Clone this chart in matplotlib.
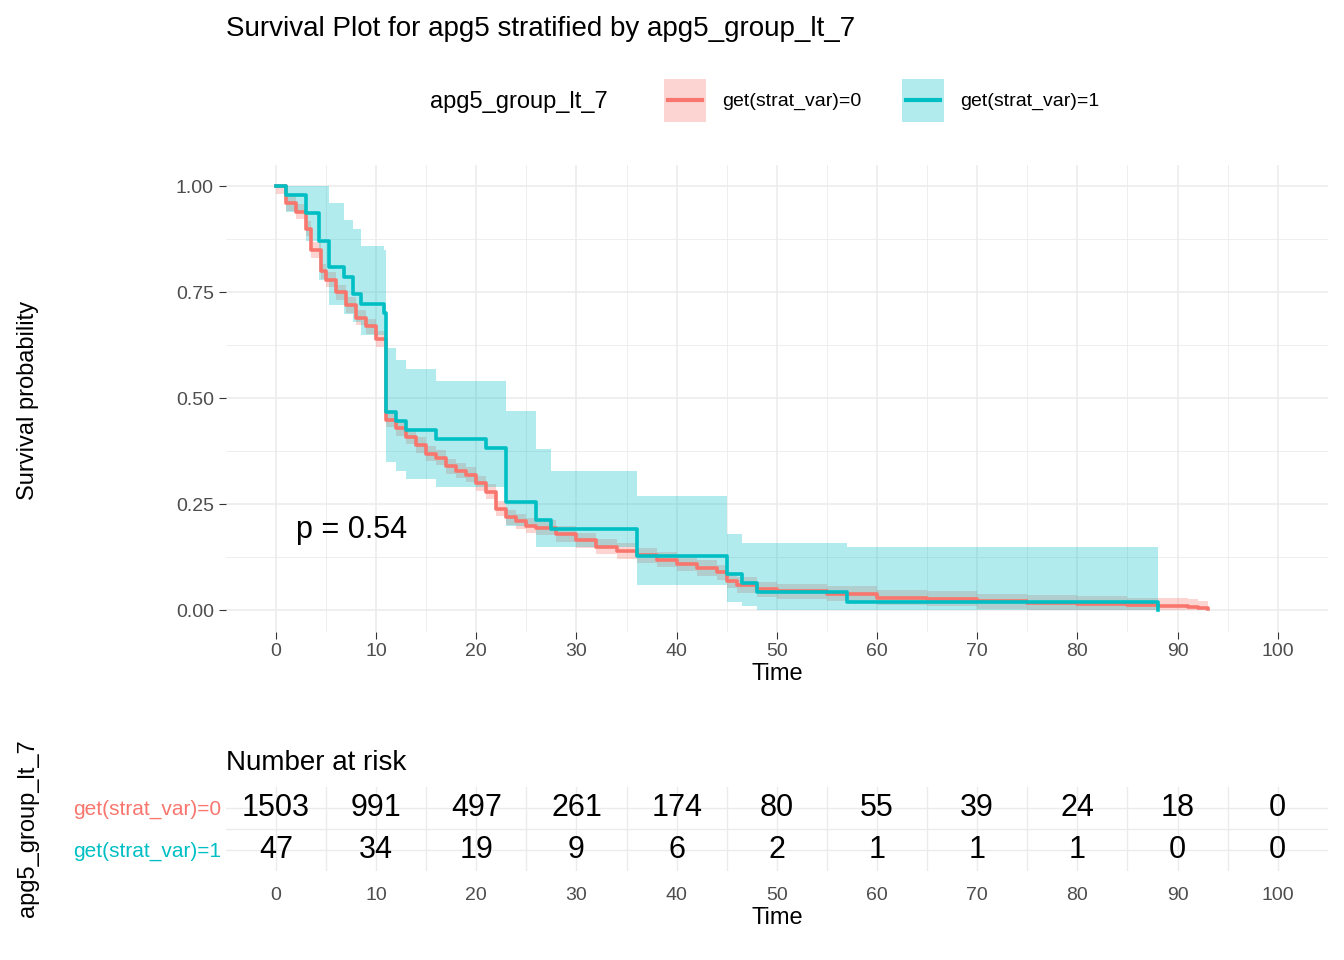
import matplotlib
matplotlib.use("Agg")
import matplotlib.pyplot as plt
import numpy as np
from matplotlib.patches import Rectangle
from matplotlib.lines import Line2D

plt.rcParams['font.family'] = ['Liberation Sans', 'DejaVu Sans']

RED = "#F8766D"
TEAL = "#00BFC4"
GRID = "#EBEBEB"

# group 1 (teal) Kaplan-Meier steps
t1 = [0, 1, 3, 4.3, 5.3, 6.8, 7.7, 8.5, 10.8, 11, 12, 13, 16, 21, 23, 26, 27.5, 36, 45, 46.5, 48, 57, 88]
s1 = [1.0, 0.979, 0.936, 0.872, 0.809, 0.787, 0.745, 0.723, 0.702, 0.468, 0.447, 0.426, 0.404, 0.383, 0.255, 0.213, 0.191, 0.128, 0.085, 0.064, 0.043, 0.021, 0.0]
u1 = [1.0, 1.0, 1.0, 1.0, 0.96, 0.92, 0.90, 0.86, 0.85, 0.62, 0.59, 0.57, 0.54, 0.54, 0.47, 0.38, 0.33, 0.27, 0.18, 0.16, 0.16, 0.15, 0.15]
l1 = [1.0, 0.94, 0.87, 0.78, 0.72, 0.70, 0.68, 0.65, 0.63, 0.35, 0.33, 0.31, 0.29, 0.29, 0.20, 0.15, 0.15, 0.06, 0.02, 0.01, 0.0, 0.0, 0.0]

# group 0 (red)
t0 = [0, 1, 2, 3, 3.5, 4.5, 5, 6, 7, 8, 9, 10, 11, 12, 13, 14, 15, 16, 17, 18, 19, 20, 21, 22, 23, 24, 25,
      26, 28, 30, 32, 34, 36, 38, 40, 42, 44, 45, 46, 48, 50, 55, 60, 65, 70, 75, 80, 85, 88, 91, 92, 93]
s0 = [1.0, 0.96, 0.94, 0.90, 0.85, 0.80, 0.78, 0.75, 0.72, 0.69, 0.67, 0.64, 0.45, 0.43, 0.41, 0.39, 0.37,
      0.36, 0.34, 0.33, 0.32, 0.30, 0.28, 0.24, 0.22, 0.21, 0.20, 0.195, 0.18, 0.165, 0.15, 0.14, 0.13, 0.12,
      0.11, 0.10, 0.09, 0.07, 0.06, 0.05, 0.045, 0.04, 0.03, 0.028, 0.022, 0.018, 0.015, 0.012, 0.011, 0.008,
      0.005, 0.003]

risk_times = [0, 10, 20, 30, 40, 50, 60, 70, 80, 90, 100]
risk0 = [1503, 991, 497, 261, 174, 80, 55, 39, 24, 18, 0]
risk1 = [47, 34, 19, 9, 6, 2, 1, 1, 1, 0, 0]

fig = plt.figure(figsize=(13.44, 9.6), dpi=100)
ax = fig.add_axes([0.168, 0.342, 0.82, 0.486])

s0a = np.array(s0)
ax.fill_between(t0, np.clip(s0a + 0.018, 0, 1), np.clip(s0a - 0.018, 0, 1), step="post", color=RED, alpha=0.3, lw=0)
ax.step(t0, s0, where="post", color=RED, lw=2.6)
ax.fill_between(t1, u1, l1, step="post", color=TEAL, alpha=0.3, lw=0)
ax.step(t1, s1, where="post", color=TEAL, lw=2.6)

ax.set_xlim(-5, 105)
ax.set_ylim(-0.05, 1.05)
ax.set_xticks(range(0, 101, 10))
ax.set_xticks(range(5, 101, 10), minor=True)
ax.set_yticks([0, 0.25, 0.5, 0.75, 1.0])
ax.set_yticklabels(["0.00", "0.25", "0.50", "0.75", "1.00"])
ax.set_yticks([0.125, 0.375, 0.625, 0.875], minor=True)
ax.grid(which="major", color=GRID, lw=1.1)
ax.grid(which="minor", color=GRID, lw=0.6)
ax.set_axisbelow(True)
for sp in ax.spines.values():
    sp.set_visible(False)
ax.tick_params(which="major", length=5, color="#333333", labelsize=14, labelcolor="#4D4D4D")
ax.tick_params(which="minor", length=0)
ax.set_xlabel("Time", fontsize=17, labelpad=2)
fig.text(28 / 1344, 1 - 400 / 960, "Survival probability", fontsize=17, rotation=90, ha="center", va="center")
ax.text(2, 0.19, "p = 0.54", fontsize=22, va="center")

fig.text(0.168, 0.97, "Survival Plot for apg5 stratified by apg5_group_lt_7", fontsize=20, va="center")

# legend
fig.text(0.32, 0.894, "apg5_group_lt_7", fontsize=17, va="center")
for x0, col, lab in [(664, RED, "get(strat_var)=0"), (902, TEAL, "get(strat_var)=1")]:
    fig.patches.append(Rectangle((x0 / 1344, 1 - 122 / 960), 42 / 1344, 43 / 960, transform=fig.transFigure,
                                 facecolor=col, alpha=0.3, lw=0))
    fig.lines.append(Line2D([(x0 + 4) / 1344, (x0 + 38) / 1344], [1 - 100 / 960] * 2, transform=fig.transFigure,
                            color=col, lw=3))
    fig.text((x0 + 58) / 1344, 1 - 101 / 960, lab, fontsize=14, va="center")

# risk table
ax2 = fig.add_axes([0.168, 0.093, 0.82, 0.0875])
ax2.set_xlim(-5, 105)
ax2.set_ylim(0.5, 2.5)
for t, a, b in zip(risk_times, risk0, risk1):
    ax2.text(t, 2, str(a), ha="center", va="center", fontsize=22)
    ax2.text(t, 1, str(b), ha="center", va="center", fontsize=22)
ax2.set_xticks(range(0, 101, 10))
ax2.set_xticks(range(5, 101, 10), minor=True)
ax2.set_yticks([1, 2])
ax2.set_yticklabels(["get(strat_var)=1", "get(strat_var)=0"])
for lbl, col in zip(ax2.get_yticklabels(), [TEAL, RED]):
    lbl.set_color(col)
ax2.set_yticks([1.5], minor=True)
ax2.grid(which="both", color=GRID, lw=1.0)
ax2.set_axisbelow(True)
for sp in ax2.spines.values():
    sp.set_visible(False)
ax2.tick_params(which="both", length=0, labelsize=15)
ax2.tick_params(axis="x", labelsize=14, labelcolor="#4D4D4D", pad=12)
ax2.set_xlabel("Time", fontsize=17, labelpad=2)
fig.text(28 / 1344, 1 - 828 / 960, "apg5_group_lt_7", fontsize=17, rotation=90, ha="center", va="center")
ax2.set_title("Number at risk", fontsize=20, loc="left", pad=12)

fig.savefig("out.png", dpi=100)
